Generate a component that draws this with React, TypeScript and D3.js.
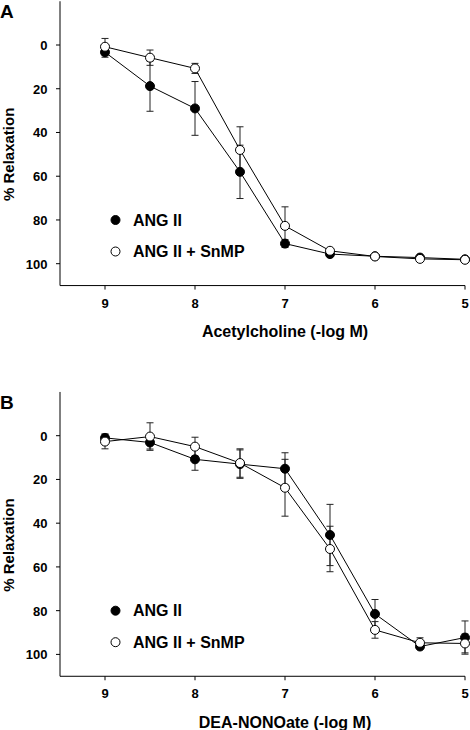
import React from "react";
import * as d3 from "d3";

const doses = [9, 8.5, 8, 7.5, 7, 6.5, 6, 5.5, 5];
const xTicks = [9, 8, 7, 6, 5];
const yTicks = [0, 20, 40, 60, 80, 100];
const seriesNames = ["ANG II", "ANG II + SnMP"];

const achAng = [3.3, 18.8, 29, 58, 90.8, 95.6, 96.6, 97.2, 98];
const achAngErr = [2.3, 11.5, 12.3, 12.2, 1.8, 1, 0.8, 1, 1];
const achSn = [0.8, 5.8, 10.7, 48, 82.7, 94.1, 96.7, 97.8, 98.2];
const achSnErr = [3.8, 3.5, 2.3, 10.6, 8.7, 1, 0.8, 1.2, 1];

const deaAng = [1, 3.1, 10.8, 13, 15.1, 45.4, 81.5, 96.4, 92.3];
const deaAngErr = [1.8, 3, 5, 6.5, 7.3, 14, 6.6, 1, 7.6];
const deaSn = [2.7, 0.4, 5, 12.5, 23.8, 51.8, 88.8, 94.7, 95];
const deaSnErr = [3.3, 6.3, 4.3, 6.5, 13, 10.4, 3.8, 2.3, 4.3];

const FONT = "'Liberation Sans', Arial, sans-serif";

type PanelProps = {
  top: number;
  letter: string;
  xTitle: string;
  ang: number[];
  angErr: number[];
  sn: number[];
  snErr: number[];
};

function Panel({ top, letter, xTitle, ang, angErr, sn, snErr }: PanelProps) {
  const x = d3.scaleLinear().domain([9.5, 5]).range([60, 465]);
  const y = d3.scaleLinear().domain([0, 100]).range([top + 45, top + 263.7]);
  const y0 = y(-20);
  const y1 = y(110);
  const line = d3
    .line<number>()
    .x((_, i) => x(doses[i]))
    .y((d) => y(d));
  const cap = 3.5;
  const r = 4.5;

  const errBars = (vals: number[], errs: number[], key: string) =>
    vals.map((v, i) => {
      const cx = x(doses[i]);
      const a = y(v - errs[i]);
      const b = y(v + errs[i]);
      return (
        <g key={key + i} stroke="#222" strokeWidth={1}>
          <line x1={cx} x2={cx} y1={a} y2={b} />
          <line x1={cx - cap} x2={cx + cap} y1={a} y2={a} />
          <line x1={cx - cap} x2={cx + cap} y1={b} y2={b} />
        </g>
      );
    });

  const points = (vals: number[], fill: string, key: string) =>
    vals.map((v, i) => (
      <circle
        key={key + i}
        cx={x(doses[i])}
        cy={y(v)}
        r={r}
        fill={fill}
        stroke="#000"
        strokeWidth={1}
      />
    ));

  return (
    <g fontFamily={FONT} fontWeight="bold">
      <text x={0} y={top + 18} fontSize={19}>
        {letter}
      </text>
      {/* axes */}
      <line x1={60} x2={60} y1={y0} y2={y1} stroke="#000" strokeWidth={1} />
      <line x1={60} x2={465} y1={y1} y2={y1} stroke="#000" strokeWidth={1} />
      {yTicks.map((t) => (
        <g key={"yt" + t}>
          <line x1={56} x2={60} y1={y(t)} y2={y(t)} stroke="#000" strokeWidth={1} />
          <text x={47.5} y={y(t) + 5} fontSize={13} textAnchor="end">
            {t}
          </text>
        </g>
      ))}
      {xTicks.map((t) => (
        <g key={"xt" + t}>
          <line x1={x(t)} x2={x(t)} y1={y1} y2={y1 + 4} stroke="#000" strokeWidth={1} />
          <text x={x(t)} y={y1 + 22} fontSize={13} textAnchor="middle">
            {t}
          </text>
        </g>
      ))}
      <text x={285} y={y1 + 51.5} fontSize={16} textAnchor="middle">
        {xTitle}
      </text>
      <text
        transform={`translate(14, ${(y(0) + y(100)) / 2}) rotate(-90)`}
        fontSize={15}
        textAnchor="middle"
      >
        % Relaxation
      </text>
      {/* series */}
      {errBars(ang, angErr, "ea")}
      {errBars(sn, snErr, "es")}
      <path d={line(ang) ?? ""} fill="none" stroke="#000" strokeWidth={1} />
      <path d={line(sn) ?? ""} fill="none" stroke="#000" strokeWidth={1} />
      {points(ang, "#000", "pa")}
      {points(sn, "#fff", "ps")}
      {/* legend */}
      <circle cx={115.5} cy={top + 220} r={r} fill="#000" stroke="#000" />
      <text x={133} y={top + 225.5} fontSize={16}>
        {seriesNames[0]}
      </text>
      <circle cx={115.5} cy={top + 251.5} r={r} fill="#fff" stroke="#000" />
      <text x={133} y={top + 257} fontSize={16}>
        {seriesNames[1]}
      </text>
    </g>
  );
}

export default function App() {
  return (
    <svg
      width={470}
      height={730}
      style={{ position: "absolute", left: 0, top: 0, background: "#fff" }}
    >
      <rect width={470} height={730} fill="#fff" />
      <Panel
        top={0}
        letter="A"
        xTitle="Acetylcholine (-log M)"
        ang={achAng}
        angErr={achAngErr}
        sn={achSn}
        snErr={achSnErr}
      />
      <Panel
        top={390.7}
        letter="B"
        xTitle="DEA-NONOate (-log M)"
        ang={deaAng}
        angErr={deaAngErr}
        sn={deaSn}
        snErr={deaSnErr}
      />
    </svg>
  );
}
